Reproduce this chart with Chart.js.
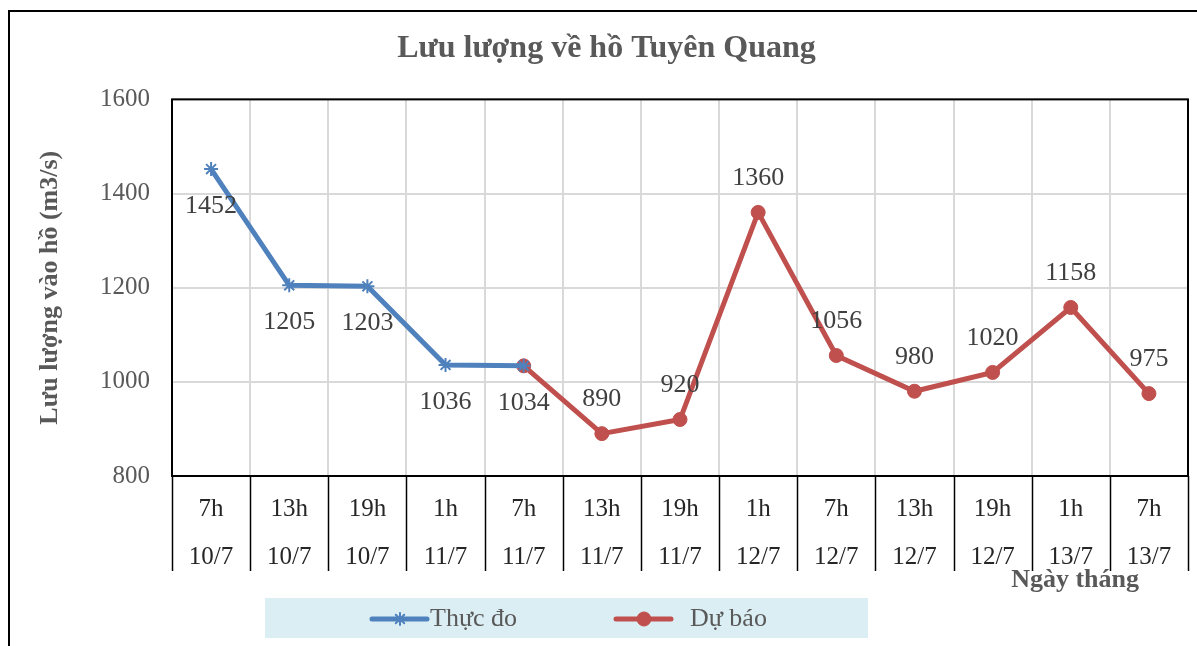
<!DOCTYPE html>
<html>
<head>
<meta charset="utf-8">
<script src="https://cdn.jsdelivr.net/npm/chart.js@4/dist/chart.umd.min.js"></script>
<style>
    html, body { margin: 0; padding: 0; background: #fff; }
</style>
</head>
<body>
<canvas id="chart" width="1197" height="646"></canvas>
<script>
const hours = ['7h', '13h', '19h', '1h', '7h', '13h', '19h', '1h', '7h', '13h', '19h', '1h', '7h'];
const days = ['10/7', '10/7', '10/7', '11/7', '11/7', '11/7', '11/7', '12/7', '12/7', '12/7', '12/7', '13/7', '13/7'];
const measured = [1452, 1205, 1203, 1036, 1034, null, null, null, null, null, null, null, null];
const forecast = [null, null, null, null, 1034, 890, 920, 1360, 1056, 980, 1020, 1158, 975];

const yMin = 800;
const yMax = 1600;
const yStep = 200;

const FONT = '"Liberation Serif", "Times New Roman", serif';
const BLUE = '#4F81BD';
const RED = '#C0504D';
const GRAY_TEXT = '#595959';

const labels = hours.map((h, i) => [h, days[i]]);

// draws frame, plot box, category separators, data labels, legend
const decor = {
    id: 'decor',
    beforeDraw(chart) {
        const ctx = chart.ctx;
        ctx.save();
        ctx.fillStyle = '#fff';
        ctx.fillRect(0, 0, chart.width, chart.height);
        ctx.strokeStyle = '#000';
        ctx.lineWidth = 2;
        ctx.strokeRect(9, 11, chart.width + 20, chart.height + 20);
        ctx.restore();
    },
    beforeDatasetsDraw(chart) {
        const ctx = chart.ctx;
        const area = chart.chartArea;
        const n = labels.length;
        const step = (area.right - area.left) / n;
        ctx.save();
        ctx.strokeStyle = '#000';
        ctx.lineWidth = 2;
        ctx.strokeRect(area.left, area.top, area.right - area.left, area.bottom - area.top);
        ctx.lineWidth = 1.5;
        for (let i = 0; i <= n; i++) {
            const x = Math.round(area.left + i * step) + 0.5;
            ctx.beginPath();
            ctx.moveTo(x, area.bottom);
            ctx.lineTo(x, area.bottom + 95);
            ctx.stroke();
        }
        ctx.restore();
    },
    afterDatasetsDraw(chart) {
        const ctx = chart.ctx;
        ctx.save();
        ctx.font = '26px ' + FONT;
        ctx.fillStyle = '#404040';
        ctx.textAlign = 'center';
        ctx.textBaseline = 'middle';
        const m0 = chart.getDatasetMeta(0);
        measured.forEach((v, i) => {
            if (v === null) return;
            const p = m0.data[i];
            ctx.fillText(String(v), p.x, p.y + 37);
        });
        const m1 = chart.getDatasetMeta(1);
        forecast.forEach((v, i) => {
            if (v === null || measured[i] !== null) return;
            const p = m1.data[i];
            ctx.fillText(String(v), p.x, p.y - 34);
        });
        ctx.restore();
    },
    afterDraw(chart) {
        const ctx = chart.ctx;
        const area = chart.chartArea;
        ctx.save();
        // x axis title
        ctx.font = 'bold 26px ' + FONT;
        ctx.fillStyle = GRAY_TEXT;
        ctx.textAlign = 'right';
        ctx.textBaseline = 'middle';
        ctx.fillText('Ngày tháng', area.right - 49, area.bottom + 104);

        // legend
        ctx.fillStyle = '#DBEEF4';
        ctx.fillRect(265, 598, 603, 40);
        const items = [
            {ds: chart.data.datasets[0], x: 372, tx: 430},
            {ds: chart.data.datasets[1], x: 616, tx: 690}
        ];
        const ly = 619;
        items.forEach(it => {
            ctx.strokeStyle = it.ds.borderColor;
            ctx.fillStyle = it.ds.borderColor;
            ctx.lineWidth = 5;
            ctx.lineCap = 'round';
            ctx.beginPath();
            ctx.moveTo(it.x, ly);
            ctx.lineTo(it.x + 55, ly);
            ctx.stroke();
            ctx.lineWidth = it.ds.pointBorderWidth;
            Chart.helpers.drawPoint(ctx, {
                pointStyle: it.ds.pointStyle,
                radius: it.ds.pointStyle === 'star' ? 6 : 7,
                borderWidth: it.ds.pointBorderWidth,
                rotation: 0
            }, it.x + 28, ly);
            ctx.fillStyle = GRAY_TEXT;
            ctx.font = '26px ' + FONT;
            ctx.textAlign = 'left';
            ctx.fillText(it.ds.label, it.tx, ly);
        });
        ctx.restore();
    }
};

new Chart(document.getElementById('chart').getContext('2d'), {
    type: 'line',
    data: {
        labels: labels,
        datasets: [
            {
                label: 'Thực đo',
                data: measured,
                borderColor: BLUE,
                backgroundColor: BLUE,
                borderWidth: 5,
                pointStyle: 'star',
                pointRadius: 7,
                pointBorderWidth: 2,
                pointBorderColor: BLUE,
                pointBackgroundColor: BLUE,
                tension: 0
            },
            {
                label: 'Dự báo',
                data: forecast,
                borderColor: RED,
                backgroundColor: RED,
                borderWidth: 5,
                pointStyle: 'circle',
                pointRadius: 7,
                pointBorderWidth: 1,
                pointBorderColor: RED,
                pointBackgroundColor: RED,
                tension: 0
            }
        ]
    },
    options: {
        responsive: false,
        animation: false,
        devicePixelRatio: 1,
        layout: {
            padding: {left: 20, right: 4, top: 0, bottom: 0}
        },
        plugins: {
            legend: {display: false},
            tooltip: {enabled: false},
            title: {
                display: true,
                text: 'Lưu lượng về hồ Tuyên Quang',
                color: GRAY_TEXT,
                font: {family: FONT, size: 32, weight: 'bold'},
                padding: {top: 30, bottom: 31}
            }
        },
        scales: {
            x: {
                offset: true,
                grid: {
                    offset: true,
                    color: '#D9D9D9',
                    lineWidth: 2,
                    drawTicks: false
                },
                border: {display: false},
                ticks: {
                    color: '#262626',
                    font: {family: FONT, size: 25, lineHeight: 1.92},
                    padding: 9,
                    maxRotation: 0,
                    autoSkip: false
                },
                afterFit(scale) { scale.height = 170; }
            },
            y: {
                min: yMin,
                max: yMax,
                grid: {
                    color: '#D9D9D9',
                    lineWidth: 2,
                    drawTicks: false
                },
                border: {display: false},
                ticks: {
                    stepSize: yStep,
                    color: GRAY_TEXT,
                    font: {family: FONT, size: 25},
                    padding: 22,
                    callback: v => String(v)
                },
                title: {
                    display: true,
                    text: 'Lưu lượng vào hồ (m3/s)',
                    color: GRAY_TEXT,
                    font: {family: FONT, size: 26, weight: 'bold'},
                    padding: {top: 15, bottom: 0}
                },
                afterFit(scale) { scale.width = 152; }
            }
        }
    },
    plugins: [decor]
});
</script>
</body>
</html>
